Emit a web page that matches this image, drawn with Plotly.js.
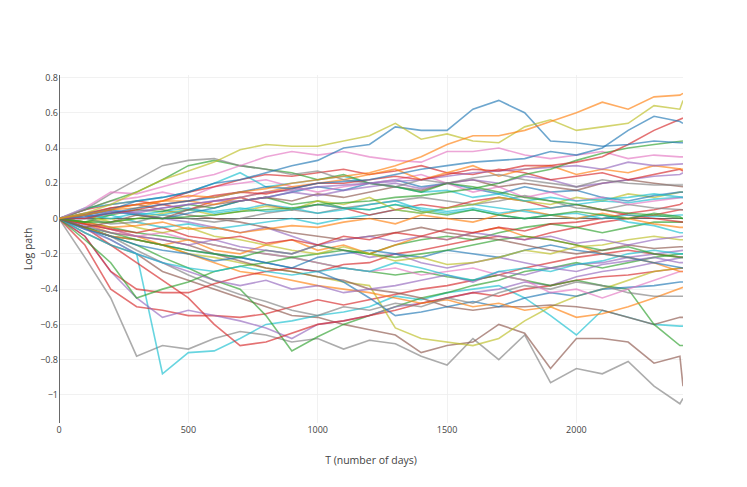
<!DOCTYPE html>
<html>
<head>
<meta charset="utf-8">
<script src="https://cdn.plot.ly/plotly-3.0.1.min.js"></script>
<style>html,body{margin:0;padding:0;background:#fff;}#chart{width:747px;height:487px;}</style>
</head>
<body>
<div id="chart"></div>
<script>
// Sampled days (x) shared by every simulated path
const days = [0,100,200,300,400,500,600,700,800,900,1000,1100,1200,1300,1400,1500,1600,1700,1800,1900,2000,2100,2200,2300,2400,2412];

const orangeTop  = [0,0.02,0.05,0.08,0.10,0.13,0.12,0.15,0.17,0.20,0.22,0.24,0.26,0.30,0.35,0.42,0.47,0.47,0.50,0.55,0.60,0.66,0.62,0.69,0.70,0.71];
const oliveTop   = [0,0.03,0.08,0.15,0.22,0.27,0.32,0.39,0.42,0.41,0.41,0.44,0.47,0.54,0.45,0.48,0.44,0.43,0.52,0.56,0.50,0.52,0.54,0.64,0.62,0.67];
const blueTop    = [0,0.02,0.05,0.10,0.12,0.15,0.20,0.22,0.26,0.30,0.33,0.40,0.42,0.52,0.50,0.50,0.62,0.67,0.60,0.44,0.43,0.41,0.42,0.44,0.43,0.43];
const blueHigh   = [0,0.01,0.03,0.06,0.08,0.10,0.12,0.15,0.18,0.17,0.20,0.21,0.22,0.25,0.28,0.30,0.32,0.33,0.34,0.38,0.36,0.40,0.50,0.58,0.55,0.54];
const redRise    = [0,0.00,0.03,0.05,0.08,0.10,0.13,0.15,0.14,0.17,0.20,0.20,0.22,0.24,0.22,0.25,0.28,0.27,0.30,0.30,0.32,0.35,0.42,0.50,0.56,0.57];
const greenRise  = [0,-0.02,-0.02,0.00,0.00,0.01,0.02,0.04,0.05,0.06,0.08,0.09,0.10,0.12,0.13,0.15,0.17,0.20,0.25,0.28,0.33,0.37,0.40,0.42,0.44,0.44];
const greyEarly  = [0,0.05,0.14,0.22,0.30,0.33,0.34,0.30,0.28,0.25,0.27,0.22,0.20,0.18,0.22,0.20,0.23,0.25,0.22,0.20,0.18,0.22,0.20,0.19,0.19,0.19];
const greenEarly = [0,0.05,0.10,0.15,0.22,0.30,0.33,0.30,0.28,0.26,0.22,0.25,0.20,0.18,0.15,0.20,0.18,0.15,0.12,0.10,0.08,0.05,0.03,0.02,0.00,0.00];
const pinkHigh   = [0,0.06,0.15,0.14,0.18,0.22,0.25,0.30,0.35,0.38,0.36,0.38,0.35,0.33,0.32,0.38,0.38,0.40,0.36,0.34,0.36,0.38,0.34,0.36,0.35,0.35];
const purpleHigh = [0,0.01,0.03,0.04,0.06,0.08,0.10,0.12,0.15,0.16,0.18,0.19,0.20,0.21,0.22,0.24,0.26,0.27,0.28,0.29,0.30,0.28,0.32,0.30,0.31,0.31];
const redDrop    = [0,-0.15,-0.40,-0.50,-0.52,-0.55,-0.55,-0.56,-0.54,-0.50,-0.46,-0.49,-0.46,-0.43,-0.40,-0.38,-0.35,-0.32,-0.28,-0.25,-0.22,-0.20,-0.18,-0.20,-0.22,-0.22];
const cyanDrop   = [0,-0.05,-0.12,-0.20,-0.88,-0.76,-0.75,-0.68,-0.60,-0.58,-0.55,-0.53,-0.50,-0.44,-0.46,-0.42,-0.40,-0.38,-0.45,-0.55,-0.66,-0.52,-0.56,-0.60,-0.61,-0.61];
const greyLow    = [0,-0.22,-0.45,-0.78,-0.72,-0.74,-0.68,-0.64,-0.66,-0.70,-0.68,-0.74,-0.69,-0.71,-0.78,-0.83,-0.68,-0.80,-0.66,-0.93,-0.85,-0.88,-0.81,-0.95,-1.05,-1.02];
const oliveLow   = [0,-0.05,-0.10,-0.12,-0.15,-0.20,-0.22,-0.25,-0.28,-0.30,-0.33,-0.36,-0.38,-0.62,-0.68,-0.70,-0.72,-0.68,-0.58,-0.50,-0.44,-0.40,-0.35,-0.30,-0.28,-0.28];
const brownLow   = [0,-0.08,-0.15,-0.20,-0.30,-0.35,-0.40,-0.45,-0.50,-0.55,-0.56,-0.60,-0.63,-0.66,-0.76,-0.72,-0.70,-0.60,-0.65,-0.85,-0.68,-0.68,-0.70,-0.82,-0.78,-0.95];
const brownMid   = [0,-0.03,-0.06,-0.10,-0.12,-0.15,-0.20,-0.24,-0.28,-0.30,-0.33,-0.35,-0.40,-0.42,-0.45,-0.50,-0.52,-0.50,-0.50,-0.49,-0.50,-0.52,-0.56,-0.60,-0.56,-0.56];
const greenDip   = [0,-0.05,-0.10,-0.15,-0.22,-0.28,-0.35,-0.40,-0.55,-0.75,-0.67,-0.60,-0.55,-0.50,-0.45,-0.42,-0.38,-0.35,-0.30,-0.28,-0.25,-0.28,-0.25,-0.22,-0.20,-0.20];
const greenLate  = [0,-0.02,-0.05,-0.08,-0.10,-0.12,-0.15,-0.18,-0.20,-0.22,-0.25,-0.28,-0.30,-0.32,-0.30,-0.33,-0.35,-0.32,-0.35,-0.38,-0.35,-0.38,-0.40,-0.60,-0.72,-0.72];
const purpleLow  = [0,-0.10,-0.30,-0.45,-0.56,-0.52,-0.55,-0.58,-0.62,-0.68,-0.60,-0.58,-0.55,-0.50,-0.48,-0.45,-0.42,-0.40,-0.36,-0.38,-0.33,-0.30,-0.28,-0.25,-0.22,-0.22];
const redLow     = [0,-0.05,-0.15,-0.25,-0.35,-0.45,-0.60,-0.72,-0.70,-0.65,-0.60,-0.58,-0.55,-0.52,-0.48,-0.45,-0.42,-0.44,-0.40,-0.38,-0.35,-0.33,-0.32,-0.30,-0.28,-0.28];
const redMidLow  = [0,-0.10,-0.30,-0.40,-0.42,-0.42,-0.37,-0.33,-0.30,-0.28,-0.30,-0.26,-0.25,-0.20,-0.18,-0.15,-0.12,-0.10,-0.12,-0.08,-0.05,-0.02,0.00,0.02,0.05,0.05];
const greenMidLow= [0,-0.12,-0.25,-0.45,-0.40,-0.36,-0.30,-0.27,-0.25,-0.22,-0.20,-0.18,-0.20,-0.15,-0.12,-0.10,-0.12,-0.08,-0.05,-0.03,-0.05,-0.08,-0.05,-0.02,-0.02,-0.02];
const blueLow    = [0,-0.05,-0.10,-0.12,-0.15,-0.18,-0.20,-0.22,-0.25,-0.28,-0.30,-0.36,-0.45,-0.55,-0.53,-0.50,-0.47,-0.50,-0.45,-0.42,-0.44,-0.40,-0.39,-0.38,-0.36,-0.36];
const orangeLow  = [0,-0.03,-0.08,-0.10,-0.15,-0.20,-0.25,-0.30,-0.32,-0.35,-0.38,-0.40,-0.42,-0.45,-0.48,-0.46,-0.50,-0.48,-0.52,-0.50,-0.56,-0.54,-0.50,-0.45,-0.40,-0.39];
const greyMidLow = [0,-0.05,-0.10,-0.18,-0.25,-0.32,-0.38,-0.43,-0.47,-0.52,-0.55,-0.50,-0.52,-0.48,-0.50,-0.45,-0.48,-0.42,-0.38,-0.40,-0.36,-0.38,-0.42,-0.44,-0.44,-0.44];
const pinkLow    = [0,-0.02,-0.06,-0.10,-0.08,-0.12,-0.15,-0.18,-0.20,-0.22,-0.25,-0.28,-0.30,-0.28,-0.32,-0.30,-0.28,-0.32,-0.35,-0.42,-0.40,-0.45,-0.40,-0.35,-0.30,-0.30];
const cyanUp     = [0,0.06,0.08,0.10,0.12,0.15,0.20,0.26,0.18,0.20,0.22,0.24,0.20,0.18,0.15,0.16,0.12,0.14,0.10,0.12,0.10,0.11,0.12,0.14,0.12,0.12];
const orangeMid  = [0,0.02,0.05,0.06,0.10,0.10,0.08,0.12,0.15,0.18,0.20,0.22,0.25,0.28,0.22,0.26,0.30,0.24,0.28,0.30,0.25,0.28,0.26,0.30,0.28,0.28];
const redMid     = [0,0.03,0.06,0.08,0.10,0.15,0.18,0.22,0.25,0.24,0.26,0.28,0.25,0.27,0.30,0.26,0.25,0.28,0.26,0.22,0.24,0.26,0.22,0.25,0.28,0.27];
const purpleMid  = [0,0.00,0.04,0.03,0.06,0.08,0.10,0.10,0.12,0.15,0.13,0.16,0.18,0.20,0.17,0.20,0.22,0.20,0.24,0.22,0.18,0.20,0.22,0.24,0.25,0.26];
const cyanMid    = [0,0.02,0.00,0.03,0.02,0.05,0.04,0.06,0.04,0.05,0.08,0.06,0.05,0.08,0.06,0.04,0.06,0.03,0.05,0.06,0.08,0.10,0.09,0.11,0.12,0.12];
const greenMid   = [0,-0.02,0.02,0.05,0.04,0.08,0.06,0.10,0.12,0.08,0.10,0.06,0.05,0.08,0.04,0.02,0.05,0.02,0.00,0.02,0.04,0.02,0.00,0.03,0.01,0.00];
const oliveMid   = [0,0.02,-0.02,0.00,0.03,0.05,0.02,0.04,0.07,0.05,0.10,0.08,0.12,0.05,0.03,0.06,0.08,0.12,0.10,0.08,0.12,0.10,0.14,0.12,0.15,0.15];
const pinkMid    = [0,0.05,0.10,0.12,0.15,0.12,0.18,0.20,0.22,0.18,0.15,0.18,0.20,0.22,0.25,0.20,0.15,0.18,0.12,0.15,0.10,0.12,0.08,0.10,0.12,0.12];
const brownMidUp = [0,-0.05,-0.02,0.02,0.00,0.05,0.08,0.10,0.12,0.10,0.14,0.12,0.15,0.18,0.16,0.20,0.22,0.18,0.20,0.18,0.16,0.20,0.22,0.20,0.18,0.18];
const blueMid    = [0,0.02,0.04,0.02,0.00,0.03,0.06,0.10,0.12,0.15,0.18,0.16,0.20,0.22,0.18,0.20,0.17,0.14,0.18,0.15,0.16,0.12,0.10,0.13,0.15,0.15];
const greyMid    = [0,0.00,-0.03,-0.02,0.02,0.00,-0.02,0.00,0.03,0.05,0.03,0.06,0.08,0.10,0.12,0.10,0.08,0.10,0.13,0.10,0.06,0.05,0.08,0.06,0.05,0.05];
const orangeZero = [0,-0.02,-0.05,-0.04,-0.02,-0.06,-0.05,-0.08,-0.06,-0.04,-0.05,-0.02,0.00,-0.03,0.02,0.00,-0.02,0.02,0.05,0.02,0.00,0.03,0.00,-0.03,-0.05,-0.05];
const cyanZero   = [0,0.00,0.02,-0.02,-0.05,-0.03,-0.06,-0.04,-0.02,0.00,-0.03,0.00,0.02,0.05,0.03,0.06,0.08,0.06,0.04,0.02,0.00,0.02,-0.02,-0.04,-0.08,-0.08];
const redZero    = [0,-0.03,-0.06,-0.08,-0.05,-0.10,-0.12,-0.10,-0.14,-0.12,-0.15,-0.10,-0.12,-0.08,-0.10,-0.06,-0.08,-0.05,-0.07,-0.03,-0.02,0.00,0.03,0.05,0.08,0.09];
const purpleNeg  = [0,-0.04,-0.08,-0.10,-0.12,-0.15,-0.12,-0.16,-0.18,-0.20,-0.15,-0.12,-0.10,-0.13,-0.10,-0.12,-0.08,-0.10,-0.12,-0.10,-0.14,-0.12,-0.15,-0.12,-0.10,-0.10];
const greenNeg   = [0,-0.05,-0.08,-0.12,-0.15,-0.18,-0.20,-0.22,-0.18,-0.20,-0.15,-0.18,-0.20,-0.22,-0.20,-0.18,-0.15,-0.12,-0.10,-0.12,-0.15,-0.18,-0.16,-0.20,-0.22,-0.22];
const blueNeg    = [0,-0.06,-0.10,-0.15,-0.18,-0.20,-0.24,-0.22,-0.25,-0.28,-0.22,-0.20,-0.18,-0.20,-0.22,-0.18,-0.20,-0.22,-0.18,-0.15,-0.18,-0.20,-0.22,-0.25,-0.28,-0.28];
const oliveNeg   = [0,-0.02,0.00,-0.05,-0.08,-0.05,-0.10,-0.12,-0.15,-0.18,-0.20,-0.16,-0.20,-0.24,-0.22,-0.26,-0.25,-0.22,-0.18,-0.20,-0.16,-0.15,-0.12,-0.10,-0.12,-0.12];
const brownNeg   = [0,0.02,0.06,0.08,0.05,0.02,0.00,-0.02,-0.05,-0.08,-0.10,-0.12,-0.10,-0.08,-0.05,-0.08,-0.10,-0.12,-0.15,-0.18,-0.20,-0.18,-0.15,-0.17,-0.16,-0.16];
const cyanNeg    = [0,-0.08,-0.15,-0.20,-0.25,-0.28,-0.30,-0.27,-0.30,-0.32,-0.30,-0.28,-0.30,-0.25,-0.28,-0.32,-0.35,-0.30,-0.28,-0.30,-0.26,-0.24,-0.20,-0.18,-0.20,-0.20];
const purpleSlide= [0,0.02,0.05,0.03,0.00,-0.02,-0.05,-0.08,-0.05,-0.10,-0.15,-0.18,-0.22,-0.20,-0.25,-0.28,-0.25,-0.22,-0.25,-0.28,-0.30,-0.26,-0.24,-0.22,-0.25,-0.25];
const redSmall   = [0,0.05,0.08,0.10,0.08,0.05,0.10,0.12,0.08,0.05,0.08,0.06,0.02,0.05,0.08,0.06,0.10,0.12,0.10,0.06,0.08,0.05,0.02,0.00,-0.02,-0.02];
const cyanFlat   = [0,0.03,0.05,0.02,0.04,0.06,0.03,0.05,0.08,0.06,0.03,0.05,0.08,0.10,0.05,0.03,0.05,0.02,0.00,0.02,0.03,0.00,0.02,0.01,0.02,0.02];
const orangeNeg  = [0,-0.05,-0.10,-0.12,-0.15,-0.12,-0.18,-0.20,-0.15,-0.12,-0.18,-0.15,-0.20,-0.15,-0.10,-0.12,-0.08,-0.05,-0.10,-0.12,-0.15,-0.20,-0.22,-0.25,-0.30,-0.30];
const purpleDeep = [0,-0.06,-0.12,-0.20,-0.25,-0.30,-0.35,-0.38,-0.35,-0.40,-0.38,-0.42,-0.40,-0.38,-0.35,-0.32,-0.36,-0.30,-0.32,-0.28,-0.26,-0.25,-0.22,-0.20,-0.18,-0.18];

// Paths in drawing order, with the palette colour each one uses
const paths = [
  [greyLow,'#7f7f7f'],[brownLow,'#8c564b'],[cyanDrop,'#17becf'],[redDrop,'#d62728'],[greenDip,'#2ca02c'],
  [purpleLow,'#9467bd'],[redLow,'#d62728'],[oliveLow,'#bcbd22'],[brownMid,'#8c564b'],[greenLate,'#2ca02c'],
  [blueLow,'#1f77b4'],[orangeLow,'#ff7f0e'],[greyMidLow,'#7f7f7f'],[pinkLow,'#e377c2'],[redMidLow,'#d62728'],
  [greenMidLow,'#2ca02c'],[purpleDeep,'#9467bd'],[cyanNeg,'#17becf'],[orangeNeg,'#ff7f0e'],[purpleSlide,'#9467bd'],
  [blueNeg,'#1f77b4'],[greenNeg,'#2ca02c'],[brownNeg,'#8c564b'],[oliveNeg,'#bcbd22'],[purpleNeg,'#9467bd'],
  [redZero,'#d62728'],[cyanZero,'#17becf'],[orangeZero,'#ff7f0e'],[greyMid,'#7f7f7f'],[redSmall,'#d62728'],
  [cyanFlat,'#17becf'],[greenMid,'#2ca02c'],[oliveMid,'#bcbd22'],[cyanMid,'#17becf'],[blueMid,'#1f77b4'],
  [brownMidUp,'#8c564b'],[pinkMid,'#e377c2'],[cyanUp,'#17becf'],[purpleMid,'#9467bd'],[redMid,'#d62728'],
  [orangeMid,'#ff7f0e'],[greenEarly,'#2ca02c'],[greyEarly,'#7f7f7f'],[purpleHigh,'#9467bd'],[pinkHigh,'#e377c2'],
  [greenRise,'#2ca02c'],[redRise,'#d62728'],[blueHigh,'#1f77b4'],[blueTop,'#1f77b4'],[oliveTop,'#bcbd22'],[orangeTop,'#ff7f0e']
];

const traces = paths.map(([vals, col]) => ({
  type: 'scatter', mode: 'lines', x: days, y: vals,
  line: {color: col, width: 1.6}, opacity: 0.65, hoverinfo: 'skip'
}));

const layout = {
  width: 747, height: 487,
  margin: {l: 59, r: 64, t: 75, b: 64},
  showlegend: false,
  paper_bgcolor: '#fff', plot_bgcolor: '#fff',
  font: {family: '"Open Sans", verdana, arial, sans-serif', size: 9, color: '#444'},
  xaxis: {
    range: [0, 2412], tick0: 0, dtick: 500,
    tickfont: {size: 9},
    gridcolor: '#eee', gridwidth: 0.8, zeroline: true, zerolinecolor: '#444', zerolinewidth: 0.8,
    title: {text: 'T (number of days)', font: {size: 10.5}, standoff: 21}
  },
  yaxis: {
    range: [-1.159, 0.814], tick0: 0, dtick: 0.2,
    tickfont: {size: 9},
    gridcolor: '#eee', gridwidth: 0.8, zeroline: true, zerolinecolor: '#444', zerolinewidth: 0.8,
    title: {text: 'Log path', font: {size: 10.5}, standoff: 5}
  }
};

Plotly.newPlot('chart', traces, layout, {displayModeBar: false, staticPlot: true});
</script>
</body>
</html>
